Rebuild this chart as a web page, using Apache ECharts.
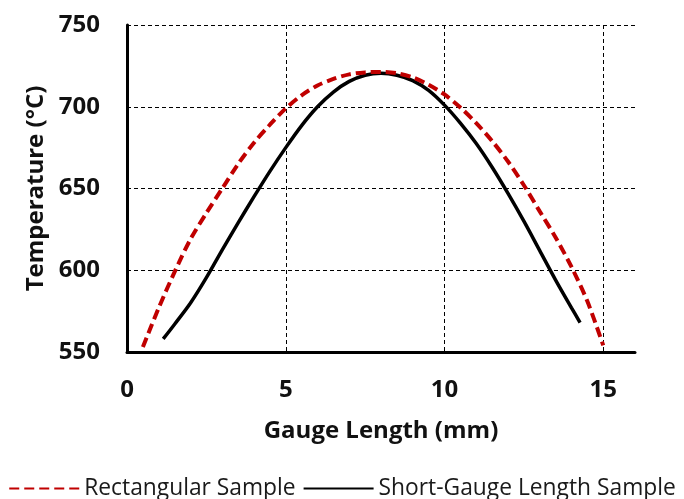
<!DOCTYPE html>
<html>
<head>
<meta charset="utf-8">
<title>Temperature along gauge length</title>
<script src="https://cdn.jsdelivr.net/npm/echarts@6/dist/echarts.min.js"></script>
<style>
  html, body { margin: 0; padding: 0; background: #fff; }
  #chart { width: 684px; height: 499px; }
</style>
</head>
<body>
<div id="chart"></div>
<script>
// Rectangular sample: [gauge position (mm), temperature (°C)]
const rectangularSample = [
  [0.5, 553], [1.0, 577], [1.5, 599], [2.0, 619], [2.5, 635],
  [3.0, 650], [3.5, 665], [4.0, 678], [4.5, 689], [5.0, 699],
  [5.5, 707], [6.0, 713], [6.5, 717], [7.0, 719.8], [7.5, 721],
  [8.0, 721.3], [8.5, 720.5], [9.0, 718], [9.5, 713.5], [10.0, 707.5],
  [10.5, 699.5], [11.0, 690], [11.5, 679], [12.0, 666.5], [12.5, 652],
  [13.0, 636], [13.5, 620], [14.0, 602], [14.5, 581], [15.0, 554]
];

// Short-gauge length sample: [gauge position (mm), temperature (°C)]
const shortGaugeSample = [
  [1.14, 558], [1.5, 567], [2.0, 580], [2.5, 595.5], [3.0, 612.5],
  [3.5, 629], [4.0, 645], [4.5, 660.5], [5.0, 675], [5.5, 688.5],
  [6.0, 700], [6.5, 709], [7.0, 715.5], [7.5, 719.3], [8.0, 720.5],
  [8.5, 719.3], [9.0, 716], [9.5, 710], [10.0, 701], [10.5, 690],
  [11.0, 677.5], [11.5, 663], [12.0, 647], [12.5, 630], [13.0, 612],
  [13.5, 594], [14.0, 577], [14.27, 568]
];

const seriesNames = ['Rectangular Sample', 'Short-Gauge Length Sample'];
const xTicks = { min: 0, max: 16, interval: 5 };
const yTicks = { min: 550, max: 750, interval: 50 };

const FONT = '"Open Sans", "Liberation Sans", sans-serif';

const chart = echarts.init(document.getElementById('chart'), null, { renderer: 'canvas' });

chart.setOption({
  animation: false,
  backgroundColor: '#fff',
  grid: { left: 127, top: 25, right: 49, bottom: 147, containLabel: false },
  legend: {
    left: 'center',
    top: 472,
    itemWidth: 70,
    itemHeight: 14,
    itemGap: 7,
    // line-only legend keys: hide the marker drawn on top of the line
    itemStyle: { opacity: 0, color: 'transparent', borderWidth: 0 },
    textStyle: { fontFamily: FONT, fontSize: 22.8, color: '#1a1a1a' },
    data: seriesNames
  },
  xAxis: {
    type: 'value',
    min: xTicks.min,
    max: xTicks.max,
    interval: xTicks.interval,
    name: 'Gauge Length (mm)',
    nameLocation: 'middle',
    nameGap: 67,
    nameTextStyle: { fontFamily: FONT, fontSize: 24, fontWeight: 'bold', color: '#111' },
    axisLine: { show: true, lineStyle: { color: '#000', width: 3 } },
    axisTick: { show: false },
    axisLabel: {
      margin: 26, showMaxLabel: false,
      fontFamily: FONT, fontSize: 24, fontWeight: 'bold', color: '#111'
    },
    splitLine: {
      show: true,
      showMinLine: false,
      showMaxLine: false,
      lineStyle: { color: '#000', width: 1, type: [4, 3] }
    }
  },
  yAxis: {
    type: 'value',
    min: yTicks.min,
    max: yTicks.max,
    interval: yTicks.interval,
    name: 'Temperature (°C)',
    nameLocation: 'middle',
    nameRotate: 90,
    nameGap: 76,
    nameTextStyle: { fontFamily: FONT, fontSize: 24, fontWeight: 'bold', color: '#111' },
    axisLine: { show: true, lineStyle: { color: '#000', width: 3 } },
    axisTick: { show: false },
    axisLabel: {
      margin: 27,
      fontFamily: FONT, fontSize: 24, fontWeight: 'bold', color: '#111'
    },
    splitLine: {
      show: true,
      showMinLine: false,
      showMaxLine: true,
      lineStyle: { color: '#000', width: 1, type: [4, 3] }
    }
  },
  series: [
    {
      name: seriesNames[0],
      type: 'line',
      data: rectangularSample,
      smooth: 0.3,
      symbol: 'none',
      z: 3,
      lineStyle: { color: '#C00000', width: 4, type: [10, 5] },
      itemStyle: { color: '#C00000' }
    },
    {
      name: seriesNames[1],
      type: 'line',
      data: shortGaugeSample,
      smooth: 0.3,
      symbol: 'none',
      z: 2,
      lineStyle: { color: '#000', width: 3.5 },
      itemStyle: { color: '#000' }
    }
  ]
});
</script>
</body>
</html>
